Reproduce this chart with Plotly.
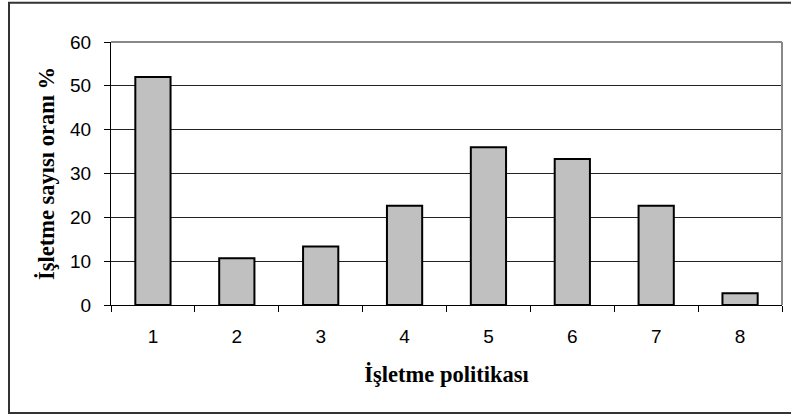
import plotly.graph_objects as go

# Share of firms (%) by management policy
policies = ["1", "2", "3", "4", "5", "6", "7", "8"]
share_pct = [52.0, 10.67, 13.33, 22.67, 36.0, 33.33, 22.67, 2.67]

y_ticks = [0, 10, 20, 30, 40, 50, 60]

sans = "Liberation Sans, Arial, sans-serif"
serif = "Liberation Serif, Times New Roman, serif"

fig = go.Figure(
    go.Bar(
        x=policies,
        y=share_pct,
        marker=dict(color="#C0C0C0", line=dict(color="black", width=2)),
        hoverinfo="x+y",
    )
)

fig.update_layout(
    width=791,
    height=415,
    margin=dict(l=111, r=9, t=42, b=110),
    paper_bgcolor="white",
    plot_bgcolor="white",
    bargap=0.58,
    showlegend=False,
    shapes=[
        # outer chart frame (right edge runs off the page)
        dict(type="rect", xref="paper", yref="paper",
             x0=-0.152, x1=1.06, y0=-0.4105, y1=1.149,
             line=dict(color="#333333", width=2), layer="below"),
        # plot area border: top and right edges in gray
        dict(type="line", xref="paper", yref="paper", x0=0, x1=1, y0=1, y1=1,
             line=dict(color="#888888", width=2)),
        dict(type="line", xref="paper", yref="paper", x0=1, x1=1, y0=0, y1=1,
             line=dict(color="#888888", width=2)),
    ],
)

fig.update_xaxes(
    type="category",
    tickson="boundaries",
    ticks="outside",
    ticklen=6,
    tickcolor="black",
    showline=True,
    linecolor="black",
    linewidth=1,
    showgrid=False,
    tickfont=dict(family=sans, size=19, color="black"),
    ticklabelstandoff=14,
    title=dict(text="<b>İşletme politikası</b>",
               font=dict(family=serif, size=22.5, color="black"),
               standoff=20),
)

fig.update_yaxes(
    range=[0, 60],
    tickvals=y_ticks,
    ticks="outside",
    ticklen=6,
    tickcolor="black",
    showline=True,
    linecolor="black",
    linewidth=1,
    showgrid=True,
    gridcolor="#222222",
    gridwidth=1,
    zeroline=False,
    tickfont=dict(family=sans, size=19, color="black"),
    ticklabelstandoff=9,
    title=dict(text="<b>İşletme sayısı oranı %</b>",
               font=dict(family=serif, size=22.5, color="black"),
               standoff=9),
)

fig.write_html("out.html")
